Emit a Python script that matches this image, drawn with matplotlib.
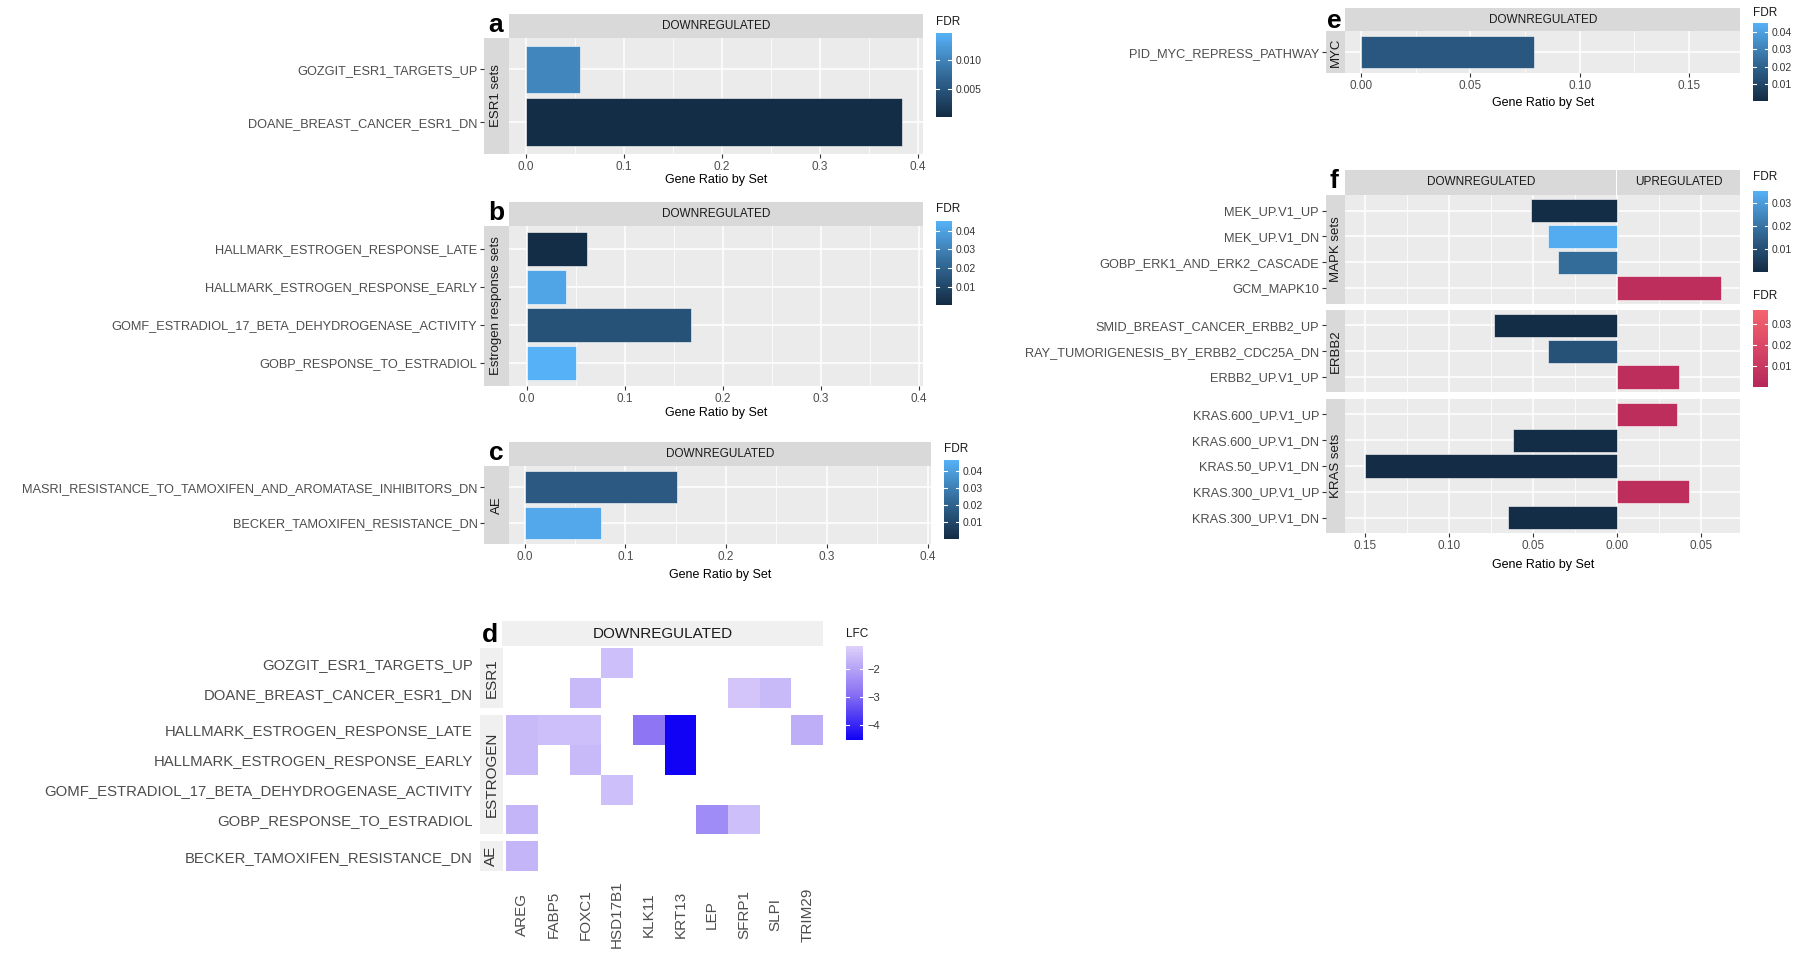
import numpy as np
import matplotlib
matplotlib.use('Agg')
import matplotlib.pyplot as plt
from matplotlib.colors import LinearSegmentedColormap, Normalize
from matplotlib.cm import ScalarMappable
from matplotlib.transforms import blended_transform_factory

plt.rcParams['font.family'] = ['Liberation Sans', 'DejaVu Sans']

# ---------------- data ----------------
a_sets = ['GOZGIT_ESR1_TARGETS_UP', 'DOANE_BREAST_CANCER_ESR1_DN']
a_ratio = [0.055, 0.384]
a_fdr = [0.0104, 0.0003]

b_sets = ['HALLMARK_ESTROGEN_RESPONSE_LATE', 'HALLMARK_ESTROGEN_RESPONSE_EARLY',
          'GOMF_ESTRADIOL_17_BETA_DEHYDROGENASE_ACTIVITY', 'GOBP_RESPONSE_TO_ESTRADIOL']
b_ratio = [0.061, 0.040, 0.167, 0.050]
b_fdr = [0.0008, 0.041, 0.014, 0.045]

c_sets = ['MASRI_RESISTANCE_TO_TAMOXIFEN_AND_AROMATASE_INHIBITORS_DN', 'BECKER_TAMOXIFEN_RESISTANCE_DN']
c_ratio = [0.151, 0.076]
c_fdr = [0.017, 0.043]

e_sets = ['PID_MYC_REPRESS_PATHWAY']
e_ratio = [0.079]
e_fdr = [0.016]

f_groups = ['MAPK sets', 'ERBB2', 'KRAS sets']
f_sets = ['MEK_UP.V1_UP', 'MEK_UP.V1_DN', 'GOBP_ERK1_AND_ERK2_CASCADE', 'GCM_MAPK10',
          'SMID_BREAST_CANCER_ERBB2_UP', 'RAY_TUMORIGENESIS_BY_ERBB2_CDC25A_DN', 'ERBB2_UP.V1_UP',
          'KRAS.600_UP.V1_UP', 'KRAS.600_UP.V1_DN', 'KRAS.50_UP.V1_DN', 'KRAS.300_UP.V1_UP', 'KRAS.300_UP.V1_DN']
f_group = ['MAPK sets'] * 4 + ['ERBB2'] * 3 + ['KRAS sets'] * 5
f_ratio = [-0.051, -0.041, -0.035, 0.062, -0.073, -0.041, 0.037, 0.036, -0.062, -0.150, 0.043, -0.065]
f_fdr = [0.0008, 0.034, 0.018, 0.004, 0.0008, 0.011, 0.004, 0.004, 0.0008, 0.0005, 0.004, 0.0008]

d_genes = ['AREG', 'FABP5', 'FOXC1', 'HSD17B1', 'KLK11', 'KRT13', 'LEP', 'SFRP1', 'SLPI', 'TRIM29']
d_sets = ['GOZGIT_ESR1_TARGETS_UP', 'DOANE_BREAST_CANCER_ESR1_DN', 'HALLMARK_ESTROGEN_RESPONSE_LATE',
          'HALLMARK_ESTROGEN_RESPONSE_EARLY', 'GOMF_ESTRADIOL_17_BETA_DEHYDROGENASE_ACTIVITY',
          'GOBP_RESPONSE_TO_ESTRADIOL', 'BECKER_TAMOXIFEN_RESISTANCE_DN']
d_group = ['ESR1', 'ESR1', 'ESTROGEN', 'ESTROGEN', 'ESTROGEN', 'ESTROGEN', 'AE']
nan = np.nan
d_lfc = [
    [nan, nan, nan, -1.5, nan, nan, nan, nan, nan, nan],
    [nan, nan, -1.6, nan, nan, nan, nan, -1.4, -1.6, nan],
    [-1.6, -1.5, -1.5, nan, -2.8, -4.5, nan, nan, nan, -1.8],
    [-1.6, nan, -1.6, nan, nan, -4.5, nan, nan, nan, nan],
    [nan, nan, nan, -1.5, nan, nan, nan, nan, nan, nan],
    [-1.7, nan, nan, nan, nan, nan, -2.4, -1.5, nan, nan],
    [-1.7, nan, nan, nan, nan, nan, nan, nan, nan, nan],
]

# ---------------- styling helpers ----------------
W, H = 1568.0, 833.0


def R(x0, y0, x1, y1):
    return [x0 / W, 1 - y1 / H, (x1 - x0) / W, (y1 - y0) / H]


BG = '#EBEBEB'
STRIP = '#D9D9D9'
TXT = '#4D4D4D'
blue = LinearSegmentedColormap.from_list('gg', ['#132B43', '#336A98', '#56B1F7'])
pink = LinearSegmentedColormap.from_list('pk', ['#B6285A', '#D84566', '#F5656E'])
purp = LinearSegmentedColormap.from_list('lfc', ['#1000F5', '#8A72F4', '#DDD1FA'])

fig = plt.figure(figsize=(18, 9.56), dpi=100)


def off(ax):
    for s in ax.spines.values():
        s.set_visible(False)


def panel(box, xlim, xticks, xlabels, xminor, n, show_x=True):
    ax = fig.add_axes(R(*box))
    ax.set_facecolor(BG)
    off(ax)
    ax.set_xlim(*xlim)
    ax.set_ylim(-0.6, n - 0.4)
    ax.set_xticks(xticks)
    ax.set_xticks(xminor, minor=True)
    ax.set_yticks(range(n))
    ax.set_yticklabels([])
    ax.tick_params(axis='y', length=0)
    ax.tick_params(axis='x', which='minor', length=0)
    if show_x:
        ax.set_xticklabels(xlabels)
        ax.tick_params(axis='x', which='major', length=3, width=0.8, color='#333333',
                       labelsize=8.5, labelcolor=TXT, pad=2)
    else:
        ax.tick_params(axis='x', which='major', length=0, labelbottom=False)
    ax.grid(True, which='major', color='white', lw=1.1)
    ax.grid(True, which='minor', axis='x', color='white', lw=0.55)
    ax.set_axisbelow(True)
    return ax


def side_strip(box, labels, text, fs=9.5, face=STRIP, label_fs=9.2, tick_len=3, pad=2, ylim=None, tcol='#1A1A1A'):
    n = len(labels)
    sa = fig.add_axes(R(*box))
    sa.set_facecolor(face)
    off(sa)
    sa.set_xticks([])
    if ylim is None:
        sa.set_ylim(-0.6, n - 0.4)
        sa.set_yticks(range(n))
        sa.set_yticklabels(labels[::-1])
    else:
        sa.set_ylim(*ylim)
        sa.set_yticks([i + 0.5 for i in range(n)])
        sa.set_yticklabels(labels)
    sa.tick_params(axis='y', length=tick_len, width=0.8, color='#333333', labelsize=label_fs,
                   labelcolor=TXT, pad=pad)
    sa.text(0.5, 0.5, text, rotation=90, ha='center', va='center', transform=sa.transAxes,
            fontsize=fs, color=tcol)
    return sa


def top_strip(box, text, fs=8.5, face=STRIP):
    ta = fig.add_axes(R(*box))
    ta.set_facecolor(face)
    off(ta)
    ta.set_xticks([])
    ta.set_yticks([])
    ta.text(0.5, 0.5, text, ha='center', va='center', fontsize=fs, color='#1A1A1A', transform=ta.transAxes)
    return ta


def cbar(box, cmap, norm, ticks, labels, title, title_y, lfs=7.5):
    ca = fig.add_axes(R(*box))
    cb = fig.colorbar(ScalarMappable(norm=norm, cmap=cmap), cax=ca)
    cb.outline.set_visible(False)
    cb.set_ticks(ticks)
    cb.set_ticklabels(labels)
    cb.minorticks_off()
    ca.tick_params(which='both', length=0, labelsize=lfs, labelcolor='#333333', pad=3)
    for t in ticks:
        ca.axhline(t, 0, 0.2, color='white', lw=0.8)
        ca.axhline(t, 0.8, 1, color='white', lw=0.8)
    fig.text(box[0] / W, 1 - title_y / H, title, ha='left', va='center', fontsize=8.5, color='#1A1A1A')


def letter(x, y, s):
    fig.text(x / W, 1 - y / H, s, ha='center', va='center', fontsize=19, fontweight='bold', color='black')


def xlabel(x0, x1, y):
    fig.text((x0 + x1) / 2 / W, 1 - y / H, 'Gene Ratio by Set', ha='center', va='center',
             fontsize=9, color='black')


def bars(ax, ratio, fdr, cmap, norm):
    n = len(ratio)
    ys = [n - 1 - i for i in range(n)]
    ax.barh(ys, ratio, height=0.9, color=[cmap(norm(v)) for v in fdr], edgecolor='white', lw=0.4)


ab_ticks = [0.0, 0.1, 0.2, 0.3, 0.4]
ab_lab = ['0.0', '0.1', '0.2', '0.3', '0.4']
ab_minor = [0.05, 0.15, 0.25, 0.35]

# ---------------- panel a ----------------
norm_a = Normalize(0.0, 0.0148)
ax = panel((443, 33, 804, 134), (-0.018, 0.405), ab_ticks, ab_lab, ab_minor, len(a_sets))
bars(ax, a_ratio, a_fdr, blue, norm_a)
top_strip((443, 12, 804, 33), 'DOWNREGULATED')
side_strip((422, 33, 443, 134), a_sets, 'ESR1 sets')
cbar((815, 29, 829, 102), blue, norm_a, [0.005, 0.010], ['0.005', '0.010'], 'FDR', 19)
letter(432, 22, 'a')
xlabel(443, 804, 157)

# ---------------- panel b ----------------
norm_b = Normalize(0.0, 0.045)
ax = panel((443, 197, 804, 336), (-0.019, 0.404), ab_ticks, ab_lab, ab_minor, len(b_sets))
bars(ax, b_ratio, b_fdr, blue, norm_b)
top_strip((443, 176, 804, 197), 'DOWNREGULATED')
side_strip((422, 197, 443, 336), b_sets, 'Estrogen response sets')
cbar((815, 193, 829, 266), blue, norm_b, [0.01, 0.02, 0.03, 0.04], ['0.01', '0.02', '0.03', '0.04'], 'FDR', 182)
letter(432, 186, 'b')
xlabel(443, 804, 360)

# ---------------- panel c ----------------
norm_c = Normalize(0.0, 0.046)
ax = panel((443, 406, 811, 474), (-0.016, 0.4034), ab_ticks, ab_lab, ab_minor, len(c_sets))
bars(ax, c_ratio, c_fdr, blue, norm_c)
top_strip((443, 385, 811, 406), 'DOWNREGULATED')
side_strip((422, 406, 443, 474), c_sets, 'AE')
cbar((822, 401, 835, 470), blue, norm_c, [0.01, 0.02, 0.03, 0.04], ['0.01', '0.02', '0.03', '0.04'], 'FDR', 391)
letter(432, 395, 'c')
xlabel(443, 811, 501)

# ---------------- panel d (heatmap) ----------------
norm_d = Normalize(-4.53, -1.18)
lfc = np.array(d_lfc, dtype=float)
d_groups = ['ESR1', 'ESTROGEN', 'AE']
row_h = 26.0
y = 565.0
gap = 6.0
last_ax = None
for g in d_groups:
    idx = [i for i, gg in enumerate(d_group) if gg == g]
    k = len(idx)
    box = (441, y, 717, y + k * row_h)
    hax = fig.add_axes(R(*box))
    off(hax)
    hax.set_facecolor('white')
    sub = np.ma.masked_invalid(lfc[idx, :])
    hax.pcolormesh(np.arange(len(d_genes) + 1), np.arange(k + 1), sub, cmap=purp, norm=norm_d)
    hax.set_xlim(0, len(d_genes))
    hax.set_ylim(k, 0)
    hax.set_xticks([])
    hax.set_yticks([])
    side_strip((418, y, 438, y + k * row_h), [d_sets[i] for i in idx], g, fs=11, face='#F0F0F0',
               label_fs=10.7, tick_len=0, pad=5, ylim=(k, 0), tcol='#333333')
    last_ax = hax
    y += k * row_h + gap
top_strip((437, 541, 717, 563), 'DOWNREGULATED', fs=11, face='#F0F0F0')
tr = blended_transform_factory(last_ax.transData, fig.transFigure)
for i, gname in enumerate(d_genes):
    last_ax.text(i + 0.5, 1 - 797 / H, gname, rotation=90, ha='center', va='center', transform=tr,
                 fontsize=11, color=TXT, clip_on=False)
cbar((737, 563, 752, 645), purp, norm_d, [-4, -3, -2], ['\u22124', '\u22123', '\u22122'], 'LFC', 552, lfs=8)
letter(427, 553, 'd')

# ---------------- panel e ----------------
norm_e = Normalize(0.0, 0.0453)
e_ticks = [0.0, 0.05, 0.10, 0.15]
e_lab = ['0.00', '0.05', '0.10', '0.15']
ax = panel((1172, 27, 1516, 64), (-0.0073, 0.1736), e_ticks, e_lab, [0.025, 0.075, 0.125], len(e_sets))
bars(ax, e_ratio, e_fdr, blue, norm_e)
top_strip((1172, 7, 1516, 27), 'DOWNREGULATED')
side_strip((1155, 27, 1172, 64), e_sets, 'MYC')
cbar((1527, 20, 1540, 88), blue, norm_e, [0.01, 0.02, 0.03, 0.04], ['0.01', '0.02', '0.03', '0.04'], 'FDR', 11)
letter(1162, 18, 'e')
xlabel(1172, 1516, 90)

# ---------------- panel f ----------------
norm_fb = Normalize(0.0, 0.0355)
norm_fp = Normalize(0.0, 0.037)
f_xlim = (-0.1616, 0.0735)
f_ticks = [-0.15, -0.10, -0.05, 0.0, 0.05]
f_lab = ['0.15', '0.10', '0.05', '0.00', '0.05']
f_minor = [-0.125, -0.075, -0.025, 0.025]
fx0, fx1 = 1172.0, 1516.0
unit = 22.5
fgap = 5.5
y = 170.0
for gi, g in enumerate(f_groups):
    idx = [i for i, gg in enumerate(f_group) if gg == g]
    k = len(idx)
    hpx = (k + 0.2) * unit
    box = (fx0, y, fx1, y + hpx)
    ax = panel(box, f_xlim, f_ticks, f_lab, f_minor, k, show_x=(gi == len(f_groups) - 1))
    ys = [k - 1 - j for j in range(k)]
    vals = [f_ratio[i] for i in idx]
    cols = [blue(norm_fb(f_fdr[i])) if f_ratio[i] < 0 else pink(norm_fp(f_fdr[i])) for i in idx]
    ax.barh(ys, vals, height=0.9, color=cols, edgecolor='white', lw=0.4)
    side_strip((1155, y, fx0, y + hpx), [f_sets[i] for i in idx], g)
    y += hpx + fgap
zero_px = fx0 + (0 - f_xlim[0]) / (f_xlim[1] - f_xlim[0]) * (fx1 - fx0)
top_strip((fx0, 148, zero_px - 0.5, 170), 'DOWNREGULATED')
top_strip((zero_px + 0.5, 148, fx1, 170), 'UPREGULATED')
cbar((1527, 166, 1540, 237), blue, norm_fb, [0.01, 0.02, 0.03], ['0.01', '0.02', '0.03'], 'FDR', 154)
cbar((1527, 270, 1540, 337), pink, norm_fp, [0.01, 0.02, 0.03], ['0.01', '0.02', '0.03'], 'FDR', 258)
letter(1162, 158, 'f')
xlabel(fx0, fx1, 492)

fig.savefig('out.png', dpi=100, facecolor='white')
